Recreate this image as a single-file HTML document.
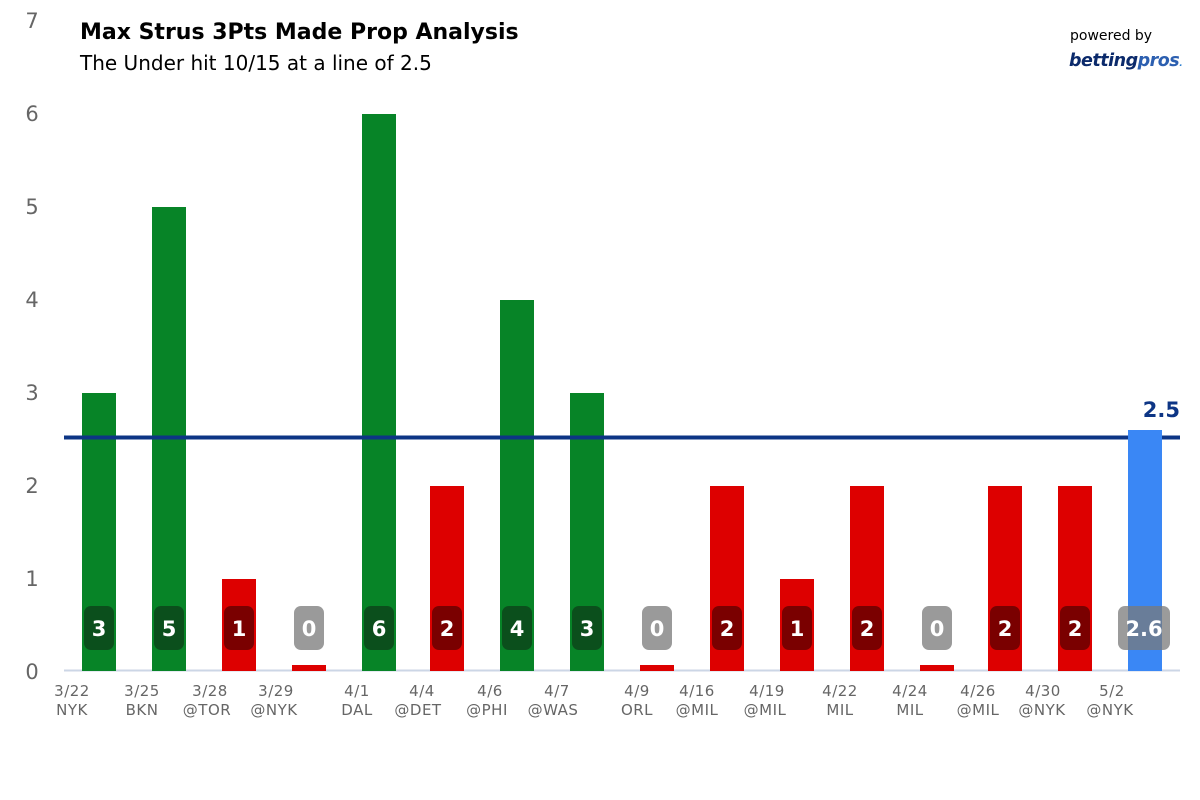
<!DOCTYPE html>
<html><head><meta charset="utf-8"><style>
html,body{margin:0;padding:0;background:#fff;width:1200px;height:800px;overflow:hidden}
svg text{font-family:"DejaVu Sans","Liberation Sans",sans-serif}
</style></head><body>
<svg width="1200" height="800" xmlns="http://www.w3.org/2000/svg">
<g font-size="21" fill="#666" text-anchor="middle">
<text x="32" y="28">7</text><text x="32" y="121">6</text><text x="32" y="214">5</text><text x="32" y="307">4</text><text x="32" y="400">3</text><text x="32" y="493">2</text><text x="32" y="586">1</text><text x="32" y="679">0</text>
</g>
<text x="80" y="39" font-size="22" font-weight="bold" fill="#000">Max Strus 3Pts Made Prop Analysis</text>
<text x="80" y="70" font-size="20" fill="#000">The Under hit 10/15 at a line of 2.5</text>
<text x="1070" y="40" font-size="14" fill="#000">powered by</text>
<text x="1069" y="66" font-size="17.5" font-weight="bold" font-style="italic" fill="#0b2a6b" letter-spacing="-0.5">betting<tspan fill="#2c5fb0">pros</tspan><tspan fill="#2c7fd0" font-size="9">.</tspan></text>
<line x1="64" y1="670.5" x2="1180" y2="670.5" stroke="#ccd6e6" stroke-width="2"/>
<g>
<rect x="82" y="393" width="34" height="278" fill="#078427"/>
<rect x="152" y="207" width="34" height="464" fill="#078427"/>
<rect x="222" y="579" width="34" height="92" fill="#dd0000"/>
<rect x="292" y="665" width="34" height="6" fill="#dd0000"/>
<rect x="362" y="114" width="34" height="557" fill="#078427"/>
<rect x="430" y="486" width="34" height="185" fill="#dd0000"/>
<rect x="500" y="300" width="34" height="371" fill="#078427"/>
<rect x="570" y="393" width="34" height="278" fill="#078427"/>
<rect x="640" y="665" width="34" height="6" fill="#dd0000"/>
<rect x="710" y="486" width="34" height="185" fill="#dd0000"/>
<rect x="780" y="579" width="34" height="92" fill="#dd0000"/>
<rect x="850" y="486" width="34" height="185" fill="#dd0000"/>
<rect x="920" y="665" width="34" height="6" fill="#dd0000"/>
<rect x="988" y="486" width="34" height="185" fill="#dd0000"/>
<rect x="1058" y="486" width="34" height="185" fill="#dd0000"/>
</g>
<line x1="64" y1="437.5" x2="1180" y2="437.5" stroke="#0d3585" stroke-width="4"/>
<rect x="1128" y="430" width="34" height="241" fill="#3a87f5"/>
<text x="1180" y="417" font-size="21" font-weight="bold" fill="#0d3585" text-anchor="end">2.5</text>
<g>
<rect x="84" y="606" width="30" height="44" rx="7" fill="#0b4f1c"/>
<rect x="154" y="606" width="30" height="44" rx="7" fill="#0b4f1c"/>
<rect x="224" y="606" width="30" height="44" rx="7" fill="#7a0000"/>
<rect x="294" y="606" width="30" height="44" rx="7" fill="#9a9a9a"/>
<rect x="364" y="606" width="30" height="44" rx="7" fill="#0b4f1c"/>
<rect x="432" y="606" width="30" height="44" rx="7" fill="#7a0000"/>
<rect x="502" y="606" width="30" height="44" rx="7" fill="#0b4f1c"/>
<rect x="572" y="606" width="30" height="44" rx="7" fill="#0b4f1c"/>
<rect x="642" y="606" width="30" height="44" rx="7" fill="#9a9a9a"/>
<rect x="712" y="606" width="30" height="44" rx="7" fill="#7a0000"/>
<rect x="782" y="606" width="30" height="44" rx="7" fill="#7a0000"/>
<rect x="852" y="606" width="30" height="44" rx="7" fill="#7a0000"/>
<rect x="922" y="606" width="30" height="44" rx="7" fill="#9a9a9a"/>
<rect x="990" y="606" width="30" height="44" rx="7" fill="#7a0000"/>
<rect x="1060" y="606" width="30" height="44" rx="7" fill="#7a0000"/>
<rect x="1118" y="606" width="52" height="44" rx="7" fill="#7a7a7a" fill-opacity="0.75"/>
</g>
<g font-size="21" font-weight="bold" fill="#fff" text-anchor="middle">
<text x="99" y="636">3</text><text x="169" y="636">5</text><text x="239" y="636">1</text><text x="309" y="636">0</text><text x="379" y="636">6</text><text x="447" y="636">2</text><text x="517" y="636">4</text><text x="587" y="636">3</text><text x="657" y="636">0</text><text x="727" y="636">2</text><text x="797" y="636">1</text><text x="867" y="636">2</text><text x="937" y="636">0</text><text x="1005" y="636">2</text><text x="1075" y="636">2</text><text x="1144" y="636">2.6</text>
</g>
<g font-size="15" fill="#666" text-anchor="middle" letter-spacing="0.5">
<text x="72" y="696">3/22</text><text x="72" y="715">NYK</text>
<text x="142" y="696">3/25</text><text x="142" y="715">BKN</text>
<text x="210" y="696">3/28</text><text x="207" y="715">@TOR</text>
<text x="276" y="696">3/29</text><text x="274" y="715">@NYK</text>
<text x="357" y="696">4/1</text><text x="357" y="715">DAL</text>
<text x="422" y="696">4/4</text><text x="418" y="715">@DET</text>
<text x="490" y="696">4/6</text><text x="487" y="715">@PHI</text>
<text x="557" y="696">4/7</text><text x="553" y="715">@WAS</text>
<text x="637" y="696">4/9</text><text x="637" y="715">ORL</text>
<text x="697" y="696">4/16</text><text x="697" y="715">@MIL</text>
<text x="767" y="696">4/19</text><text x="765" y="715">@MIL</text>
<text x="840" y="696">4/22</text><text x="840" y="715">MIL</text>
<text x="910" y="696">4/24</text><text x="910" y="715">MIL</text>
<text x="978" y="696">4/26</text><text x="978" y="715">@MIL</text>
<text x="1043" y="696">4/30</text><text x="1042" y="715">@NYK</text>
<text x="1112" y="696">5/2</text><text x="1110" y="715">@NYK</text>
</g>
</svg>
</body></html>
